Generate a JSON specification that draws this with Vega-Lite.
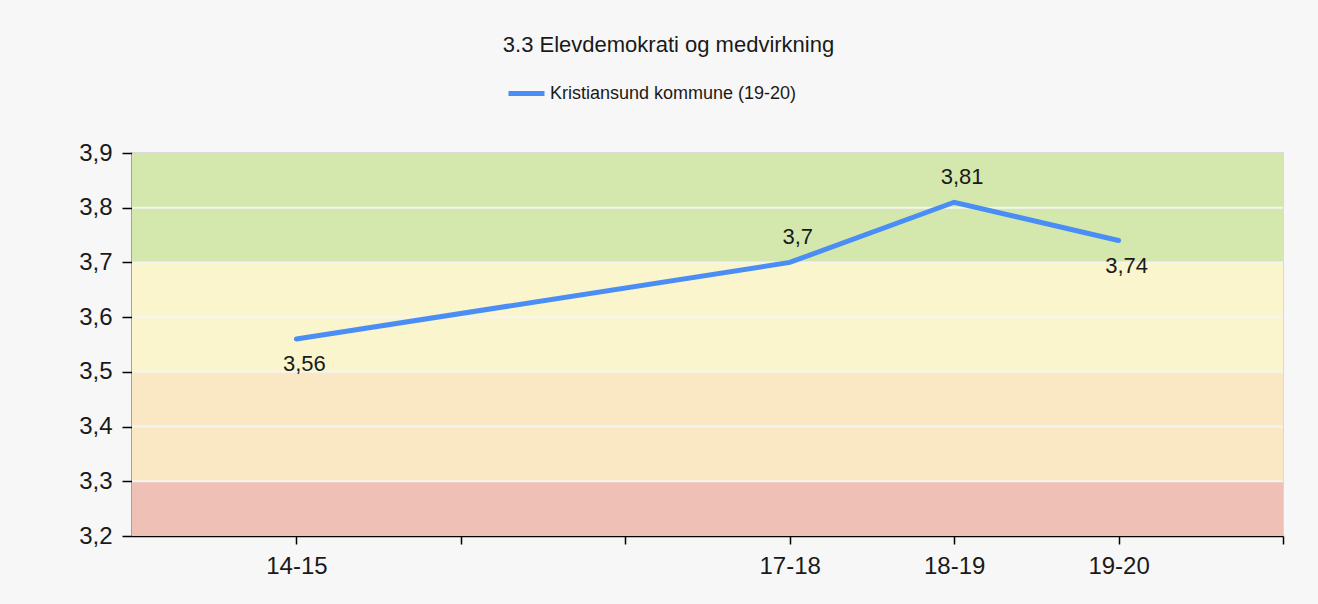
{
  "$schema": "https://vega.github.io/schema/vega-lite/v6.json",
  "autosize": {"type": "none"},
  "width": 1151,
  "height": 383,
  "padding": {"left": 132, "top": 153, "right": 35, "bottom": 68},
  "background": "#f7f7f7",
  "title": {
    "text": "3.3 Elevdemokrati og medvirkning",
    "font": "Liberation Sans",
    "fontSize": 22,
    "fontWeight": "normal",
    "color": "#1a1a1a",
    "anchor": "middle",
    "frame": "group",
    "dx": -39,
    "offset": 16
  },
  "config": {
    "locale": {"number": {"decimal": ",", "thousands": " ", "grouping": [3], "currency": ["", " kr"]}},
    "view": {"stroke": "#cfcfcf", "strokeWidth": 1.5},
    "font": "Liberation Sans"
  },
  "datasets": {
    "soner": [
      {"fra": 3.2, "til": 3.3, "sone": "rød"},
      {"fra": 3.3, "til": 3.5, "sone": "oransje"},
      {"fra": 3.5, "til": 3.7, "sone": "gul"},
      {"fra": 3.7, "til": 3.9, "sone": "grønn"}
    ],
    "grid": [
      {"v": 3.3}, {"v": 3.4}, {"v": 3.5}, {"v": 3.6}, {"v": 3.7}, {"v": 3.8}
    ],
    "serie": [
      {"aar": 14, "verdi": 3.56},
      {"aar": 17, "verdi": 3.7},
      {"aar": 18, "verdi": 3.81},
      {"aar": 19, "verdi": 3.74}
    ]
  },
  "layer": [
    {
      "data": {"name": "soner"},
      "mark": {"type": "rect"},
      "encoding": {
        "y": {"field": "fra", "type": "quantitative", "scale": {"domain": [3.2, 3.9]},
          "axis": {
            "values": [3.2, 3.3, 3.4, 3.5, 3.6, 3.7, 3.8, 3.9],
            "format": ".1f",
            "title": null,
            "grid": false,
            "labelFont": "Liberation Sans",
            "labelFontSize": 24,
            "labelColor": "#1a1a1a",
            "labelPadding": 10,
            "tickSize": 10,
            "tickColor": "#000",
            "tickWidth": 1.5,
            "domainColor": "#000",
            "domainWidth": 1.5
          }},
        "y2": {"field": "til"},
        "x": {"datum": 13, "type": "quantitative"},
        "x2": {"datum": 20},
        "fill": {"field": "sone", "type": "nominal",
          "scale": {"domain": ["rød", "oransje", "gul", "grønn"], "range": ["#efc1b6", "#fae8c4", "#faf5cc", "#d4e8ae"]},
          "legend": null}
      }
    },
    {
      "data": {"name": "grid"},
      "mark": {"type": "rule", "color": "#f4f4f0", "strokeWidth": 2},
      "encoding": {
        "y": {"field": "v", "type": "quantitative"}
      }
    },
    {
      "data": {"name": "serie"},
      "mark": {"type": "line", "strokeWidth": 5, "strokeCap": "round", "strokeJoin": "miter"},
      "encoding": {
        "x": {"field": "aar", "type": "quantitative", "scale": {"domain": [13, 20], "nice": false, "zero": false},
          "axis": {
            "values": [14, 15, 16, 17, 18, 19, 20],
            "labelExpr": "indexof([14,17,18,19], datum.value) >= 0 ? datum.value + '-' + (datum.value + 1) : ''",
            "title": null,
            "grid": false,
            "labelFont": "Liberation Sans",
            "labelFontSize": 24,
            "labelColor": "#1a1a1a",
            "labelPadding": 10,
            "tickSize": 8,
            "tickColor": "#000",
            "tickWidth": 1.5,
            "domainColor": "#000",
            "domainWidth": 1.5
          }},
        "y": {"field": "verdi", "type": "quantitative"},
        "stroke": {"datum": "Kristiansund kommune (19-20)", "type": "nominal",
          "scale": {"range": ["#4a8ef5"]},
          "legend": {
            "title": null,
            "orient": "none",
            "legendX": 374,
            "legendY": -80,
            "symbolType": "stroke",
            "symbolSize": 1296,
            "symbolStrokeWidth": 5,
            "labelFont": "Liberation Sans",
            "labelFontSize": 18,
            "labelColor": "#1a1a1a",
            "labelOffset": 3,
            "labelLimit": 400
          }}
      }
    },
    {
      "data": {"name": "serie"},
      "transform": [{"filter": "datum.aar == 14 || datum.aar == 19"}],
      "mark": {"type": "text", "dy": 25, "dx": 8, "fontSize": 22, "font": "Liberation Sans", "color": "#1a1a1a"},
      "encoding": {
        "x": {"field": "aar", "type": "quantitative"},
        "y": {"field": "verdi", "type": "quantitative"},
        "text": {"field": "verdi", "type": "quantitative", "format": ".3~g"}
      }
    },
    {
      "data": {"name": "serie"},
      "transform": [{"filter": "datum.aar == 17 || datum.aar == 18"}],
      "mark": {"type": "text", "dy": -25, "dx": 8, "fontSize": 22, "font": "Liberation Sans", "color": "#1a1a1a"},
      "encoding": {
        "x": {"field": "aar", "type": "quantitative"},
        "y": {"field": "verdi", "type": "quantitative"},
        "text": {"field": "verdi", "type": "quantitative", "format": ".3~g"}
      }
    }
  ]
}
